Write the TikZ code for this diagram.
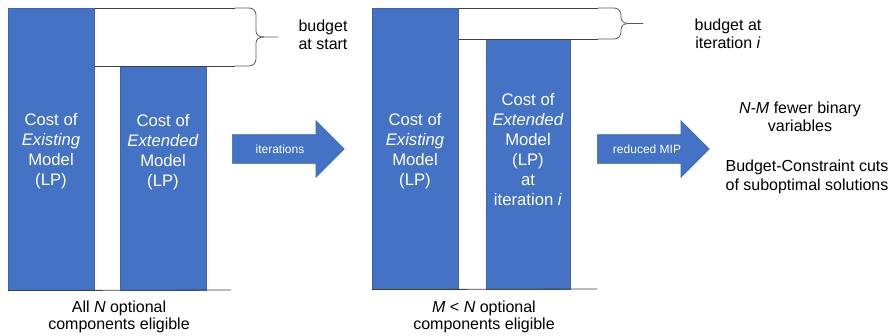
\documentclass[tikz,border=0pt]{standalone}
\usepackage{fontspec}
\setmainfont{Liberation Sans}
\usetikzlibrary{shapes.arrows,positioning}
\definecolor{barblue}{HTML}{4472C4}
\definecolor{baredge}{HTML}{3A64B0}
\newcommand\budgetbrace[5]{% start x, spine x, top y, bottom y, tip x
  \pgfmathsetmacro\bmid{(#3+#4)/2}
  \draw[bracestyle] (#1,#3) -- ({#2-7},#3) .. controls ({#2-3},#3) and (#2,{#3+3}) .. (#2,{#3+7})
    -- (#2,{\bmid-6}) .. controls (#2,{\bmid-2}) and ({#2+3},\bmid) .. ({#2+8},\bmid) -- (#5,\bmid);
  \draw[bracestyle] ({#2+8},\bmid) .. controls ({#2+3},\bmid) and (#2,{\bmid+2}) .. (#2,{\bmid+6})
    -- (#2,{#4-7}) .. controls (#2,{#4-3}) and ({#2-3},#4) .. ({#2-7},#4) -- (#1,#4);
}
\tikzset{
  bar/.style={fill=barblue, draw=baredge, line width=0.6pt, anchor=north west, inner sep=0pt},
  bartext/.style={text=white, align=center, font=\fontsize{16.7}{20}\selectfont},
  plaintext/.style={align=center, font=\fontsize{16}{18.5}\selectfont},
  budgetline/.style={draw=black!75, line width=0.8pt},
  bracestyle/.style={draw=black!65, line width=0.8pt},
  bigarrow/.style={single arrow, fill=barblue, draw=baredge, line width=0.6pt,
    minimum height=112pt, minimum width=56pt, single arrow head extend=14pt,
    single arrow head indent=0pt, inner xsep=0pt, inner ysep=14pt, anchor=tail},
  arrowtext/.style={text=white, font=\fontsize{12}{14}\selectfont},
}
\begin{document}
\begin{tikzpicture}[x=1pt,y=-1pt]
  \useasboundingbox (0,0) rectangle (895,335);

  \node[bar, minimum width=86pt, minimum height=282pt] (exist1) at (8,8) {};
  \node[bar, minimum width=86pt, minimum height=224pt] (ext1) at (120,66) {};
  \node[bar, minimum width=86pt, minimum height=281pt] (exist2) at (372,8) {};
  \node[bar, minimum width=84pt, minimum height=250pt] (ext2) at (486,39) {};

  \node[bartext] (exist1txt) at (51,151) {Cost of\\\textit{Existing}\\Model\\(LP)};
  \node[bartext] (ext1txt) at (163,152) {Cost of\\\textit{Extended}\\Model\\(LP)};
  \node[bartext] (exist2txt) at (415,151) {Cost of\\\textit{Existing}\\Model\\(LP)};
  \node[bartext] (ext2txt) at (528,150) {Cost of\\\textit{Extended}\\Model\\(LP)\\at\\iteration \textit{i}};

  \coordinate (top1) at (235,8);
  \coordinate (lev1) at (235,66);
  \coordinate (base1) at (231,290);
  \coordinate (top2) at (598,8);
  \coordinate (lev2) at (598,39);
  \coordinate (base2) at (597,289);

  \draw[budgetline] (exist1.north east) -- (top1);
  \draw[budgetline] (exist1.east |- lev1) -- (lev1);
  \draw[budgetline] (exist1.south west) -- (base1);
  \draw[budgetline] (exist2.north east) -- (top2);
  \draw[budgetline] (exist2.east |- lev2) -- (lev2);
  \draw[budgetline] (exist2.south west) -- (base2);

  \budgetbrace{235}{256}{8}{66}{278}
  \budgetbrace{598}{621}{8}{39}{643}

  \node[plaintext] (budget1) at (323,35) {budget\\at start};
  \node[plaintext] (budget2) at (728,34) {budget at\\iteration \textit{i}};

  \node[plaintext, anchor=north, font=\fontsize{16}{17}\selectfont] (elig1) at (119,297) {All \textit{N} optional\\components eligible};
  \node[plaintext, anchor=north, font=\fontsize{16}{17}\selectfont] (elig2) at (484,297) {\textit{M} < \textit{N} optional\\components eligible};

  \node[bigarrow] (iter) at (232,149) {};
  \node[arrowtext] (itertxt) at (280,149) {iterations};
  \node[bigarrow] (mip) at (597,149) {};
  \node[arrowtext] (miptxt) at (647,149) {reduced MIP};

  \node[plaintext] (fewer) at (800,117) {\textit{N-M} fewer binary\\variables};
  \node[plaintext] (cuts) at (807,177) {Budget-Constraint cuts\\of suboptimal solutions};
\end{tikzpicture}
\end{document}
